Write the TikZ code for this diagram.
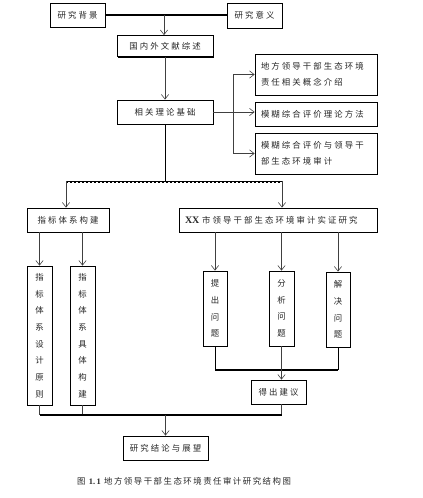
\documentclass[tikz,border=0pt]{standalone}
\usepackage{fontspec}
\setmainfont{Liberation Serif}
\newfontfamily\cjk[LetterSpace=25]{Noto Sans CJK SC}
\newfontfamily\cjkcap[LetterSpace=18]{Noto Sans CJK SC}
\usetikzlibrary{arrows.meta,shadows}
\begin{document}
\begin{tikzpicture}[x=0.75pt,y=-0.75pt,
  box/.style={draw, line width=0.6pt, fill=white, inner sep=0pt,
    drop shadow={shadow xshift=0.8pt, shadow yshift=-0.8pt, opacity=1, fill=black},
    font=\cjk\fontsize{6.3}{11.7}\selectfont, text=black!85},
  sz/.style 2 args={minimum width=#1*0.75pt, minimum height=#2*0.75pt},
  lbox/.style={align=left, inner xsep=6*0.75pt},
  vbox/.style={align=center, font=\cjk\fontsize{6.3}{12.5}\selectfont},
  arr/.style={draw=black!75, line width=0.45pt, -{Straight Barb[length=3.5pt,width=5.5pt]}},
  thin line/.style={draw=black!75, line width=0.5pt},
  thick line/.style={draw=black, line width=1.3pt}]
\useasboundingbox (0,0) rectangle (423,498);

% boxes
\node[box,sz={55}{24}] (bg) at (77.5,15) {研究背景};
\node[box,sz={55}{25}] (yy) at (254.5,15.5) {研究意义};
\node[box,sz={96}{21}] (lit) at (165,46) {国内外文献综述};
\node[box,sz={96}{24}] (th) at (165,112) {相关理论基础};
\node[box,lbox,sz={122}{41},text width=110*0.75pt] (r1) at (316,74.5) {地方领导干部生态环境\\责任相关概念介绍};
\node[box,lbox,sz={122}{24},text width=110*0.75pt] (r2) at (316,114) {模糊综合评价理论方法};
\node[box,lbox,sz={122}{41},text width=110*0.75pt] (r3) at (316,153.5) {模糊综合评价与领导干\\部生态环境审计};
\node[box,sz={82}{24}] (idx) at (68,220) {指标体系构建};
\node[box,lbox,sz={198}{24},text width=186*0.75pt] (xx) at (278,220) {{\fontspec{Liberation Serif}\bfseries\fontsize{7.5}{9}\selectfont XX} 市领导干部生态环境审计实证研究};
\node[box,vbox,sz={25}{139}] (v1) at (39.5,335.5) {指\\标\\体\\系\\设\\计\\原\\则};
\node[box,vbox,sz={25}{139}] (v2) at (82.5,335.5) {指\\标\\体\\系\\具\\体\\构\\建};
\node[box,vbox,sz={24}{75}] (p1) at (215,308.5) {提\\出\\问\\题};
\node[box,vbox,sz={25}{75}] (p2) at (281.5,308.5) {分\\析\\问\\题};
\node[box,vbox,sz={24}{75}] (p3) at (338,309.5) {解\\决\\问\\题};
\node[box,sz={55}{24}] (adv) at (278.5,392) {得出建议};
\node[box,sz={85}{24}] (concl) at (165.5,448) {研究结论与展望};
\node[font=\cjkcap\fontsize{6.3}{8}\selectfont, text=black!85] (cap) at (184,481) {图 {\fontspec{Liberation Serif}\bfseries 1.\,1} 地方领导干部生态环境责任审计研究结构图};

% connectors
\draw[thick line] (bg.east) -- (bg.east -| yy.west);
\coordinate (j1) at (164,15);
\draw[arr] (j1) -- (j1 |- lit.north);
\draw[arr] (lit.south) -- (th.north);
\draw[arr] (th.east) -- (th.east -| r2.west);
\coordinate (b) at (233,112);
\draw[arr] (b) |- (r1.west);
\draw[arr] (b) |- (r3.west);

\coordinate (c0) at (165,181);
\coordinate (c1) at (66,181);
\coordinate (c2) at (282,181);
\draw[draw=black, line width=0.7pt] (th.south) -- (c0);
\draw[draw=black, line width=0.5pt] (c1) -- (c2);
\draw[draw=black, line width=1pt, dash pattern=on 1.5pt off 1.5pt] ([yshift=-0.7pt]c1) -- ([yshift=-0.7pt]c2);
\draw[arr] (c1) -- (c1 |- idx.north);
\draw[arr] (c2) -- (c2 |- xx.north);

\draw[arr] (v1.north |- idx.south) -- (v1.north);
\draw[arr] (v2.north |- idx.south) -- (v2.north);
\draw[arr] (p1.north |- xx.south) -- (p1.north);
\draw[arr] (p2.north |- xx.south) -- (p2.north);
\draw[arr] (p3.north |- xx.south) -- (p3.north);

\coordinate (d) at (0,370);
\draw[thin line, draw=black, line width=0.7pt] (p1.south) -- (p1.south |- d);
\draw[thin line, draw=black, line width=0.7pt] (p3.south) -- (p3.south |- d);
\draw[thick line] (p1.south |- d) -- (p3.south |- d);
\draw[arr] (p2.south) -- (p2.south |- adv.north);

\coordinate (e) at (0,415);
\draw[thin line] (v1.south) -- (v1.south |- e);
\draw[thin line] (v2.south) -- (v2.south |- e);
\draw[thin line] (p2.south |- adv.south) -- (p2.south |- e);
\draw[thick line] (v1.south |- e) -- (p2.south |- e);
\draw[arr] (concl.north |- e) -- (concl.north);
\end{tikzpicture}
\end{document}
